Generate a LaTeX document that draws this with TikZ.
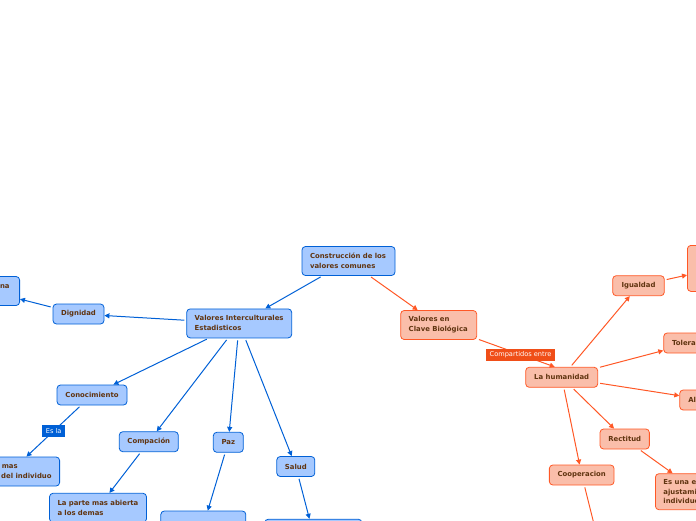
\documentclass[tikz,border=0pt]{standalone}
\usepackage{fontspec}
\setmainfont{DejaVu Sans}
\usepackage{tikz}
\usetikzlibrary{arrows.meta}
\definecolor{MapBlue}{RGB}{0,96,214}
\definecolor{MapBlueFill}{RGB}{166,201,255}
\definecolor{MapOrange}{RGB}{255,88,38}
\definecolor{MapOrangeFill}{RGB}{250,190,170}
\definecolor{MapText}{RGB}{96,52,16}
\definecolor{MapTag}{RGB}{240,78,24}

\begin{document}
\begin{tikzpicture}[x=1pt,y=-1pt,
    mapnode/.style={rounded corners=3.5pt,line width=0.8pt,text=MapText,inner sep=0pt,
      minimum height=20pt,font=\bfseries\fontsize{6.9}{10}\selectfont},
    bluebox/.style={mapnode,draw=MapBlue,fill=MapBlueFill},
    orangebox/.style={mapnode,draw=MapOrange,fill=MapOrangeFill},
    twoline/.style={align=left,inner xsep=8pt,minimum height=29pt},
    bluelink/.style={draw=MapBlue,line width=1pt,shorten <=2pt,-{Triangle[length=5pt,width=5pt]}},
    orangelink/.style={draw=MapOrange,line width=1pt,shorten <=2pt,-{Triangle[length=5pt,width=5pt]}},
    linktag/.style={text=white,inner xsep=4pt,inner ysep=2pt,minimum height=12pt,
      font=\fontsize{6.6}{7}\selectfont}]
      \useasboundingbox (0,0) rectangle (696,520);
      \clip (0,0) rectangle (696,520);
      % blue branch
      \node[bluebox,twoline,text width=77pt] (comunes) at (348.5,261) {Construcción de los\\valores comunes};
      \node[bluebox,twoline,text width=89pt] (intercult) at (239.2,323.4) {Valores Interculturales\\Estadisticos};
      \node[bluebox,minimum width=51pt] (dignidad) at (78.5,314) {Dignidad};
      \node[bluebox,twoline,anchor=east,inner xsep=10pt] (persona) at (20,291) {La persona\\humana};
      \node[bluebox,minimum width=70pt] (conocim) at (92,395) {Conocimiento};
      \node[bluebox,twoline,anchor=east] (intima) at (60,471.5) {La zona mas\\interior del individuo};
      \node[bluebox,minimum width=59pt] (compacion) at (148.8,441.7) {Compación};
      \node[bluebox,twoline,text width=81pt] (abierta) at (98,507.8) {La parte mas abierta\\a los demas};
      \node[bluebox,minimum width=30pt] (paz) at (228.3,442.3) {Paz};
      \node[bluebox,twoline,minimum width=85pt] (bebidas) at (203.3,525.5) {};
      \node[bluebox,minimum width=38pt] (salud) at (295.8,466.5) {Salud};
      \node[bluebox,twoline,minimum width=97pt] (saludsub) at (313.3,533.7) {};
      % orange branch
      \node[orangebox,twoline,text width=60pt] (clave) at (438.7,325) {Valores en\\Clave Biológica};
      \node[orangebox,minimum width=72pt] (humanidad) at (561.7,377.3) {La humanidad};
      \node[orangebox,minimum width=51.6pt] (igualdad) at (638.5,285.7) {Igualdad};
      \node[orangebox,anchor=north west,minimum width=60pt,minimum height=46pt] (igualsub) at (687,245) {};
      \node[orangebox,anchor=west,inner xsep=8.4pt] (tolerancia) at (663.3,343) {Tolerancia};
      \node[orangebox,anchor=west,inner xsep=8.6pt] (altruismo) at (679.3,400) {Altruismo};
      \node[orangebox,minimum width=49.3pt] (rectitud) at (624.7,439) {Rectitud};
      \node[orangebox,minimum width=64.7pt] (cooperacion) at (581.7,475) {Cooperacion};
      \node[orangebox,twoline,anchor=north west,minimum height=36pt,font=\bfseries\fontsize{6.9}{9.5}\selectfont] (ajuste) at (655,473.3) {Es una especie de\\ajustamiento del\\individuo};
      \coordinate (coopsub) at (603,560);
      % connectors
      \draw[bluelink] (comunes) -- (intercult);
      \draw[orangelink] (comunes) -- (clave);
      \draw[bluelink] (intercult) -- (dignidad);
      \draw[bluelink] (dignidad) -- (persona);
      \draw[bluelink] (intercult) -- (conocim);
      \draw[bluelink] (intercult) -- (compacion);
      \draw[bluelink] (intercult) -- (paz);
      \draw[bluelink] (intercult) -- (salud);
      \draw[bluelink] (conocim) -- node[linktag,fill=MapBlue]{Es la} (intima);
      \draw[bluelink] (compacion) -- (abierta);
      \draw[bluelink] (paz) -- (bebidas);
      \draw[bluelink] (salud) -- (saludsub);
      \draw[orangelink] (clave) -- node[linktag,fill=MapTag,pos=.56]{Compartidos entre} ([xshift=-7pt]humanidad.north);
      \draw[orangelink] (humanidad) -- (igualdad);
      \draw[orangelink] (humanidad) -- (tolerancia);
      \draw[orangelink] (humanidad) -- (altruismo);
      \draw[orangelink] (humanidad) -- (rectitud);
      \draw[orangelink] (humanidad) -- (cooperacion);
      \draw[orangelink] (igualdad) -- (igualsub);
      \draw[orangelink] (rectitud) -- (ajuste);
      \draw[orangelink] (cooperacion) -- (coopsub);
\end{tikzpicture}
\end{document}
